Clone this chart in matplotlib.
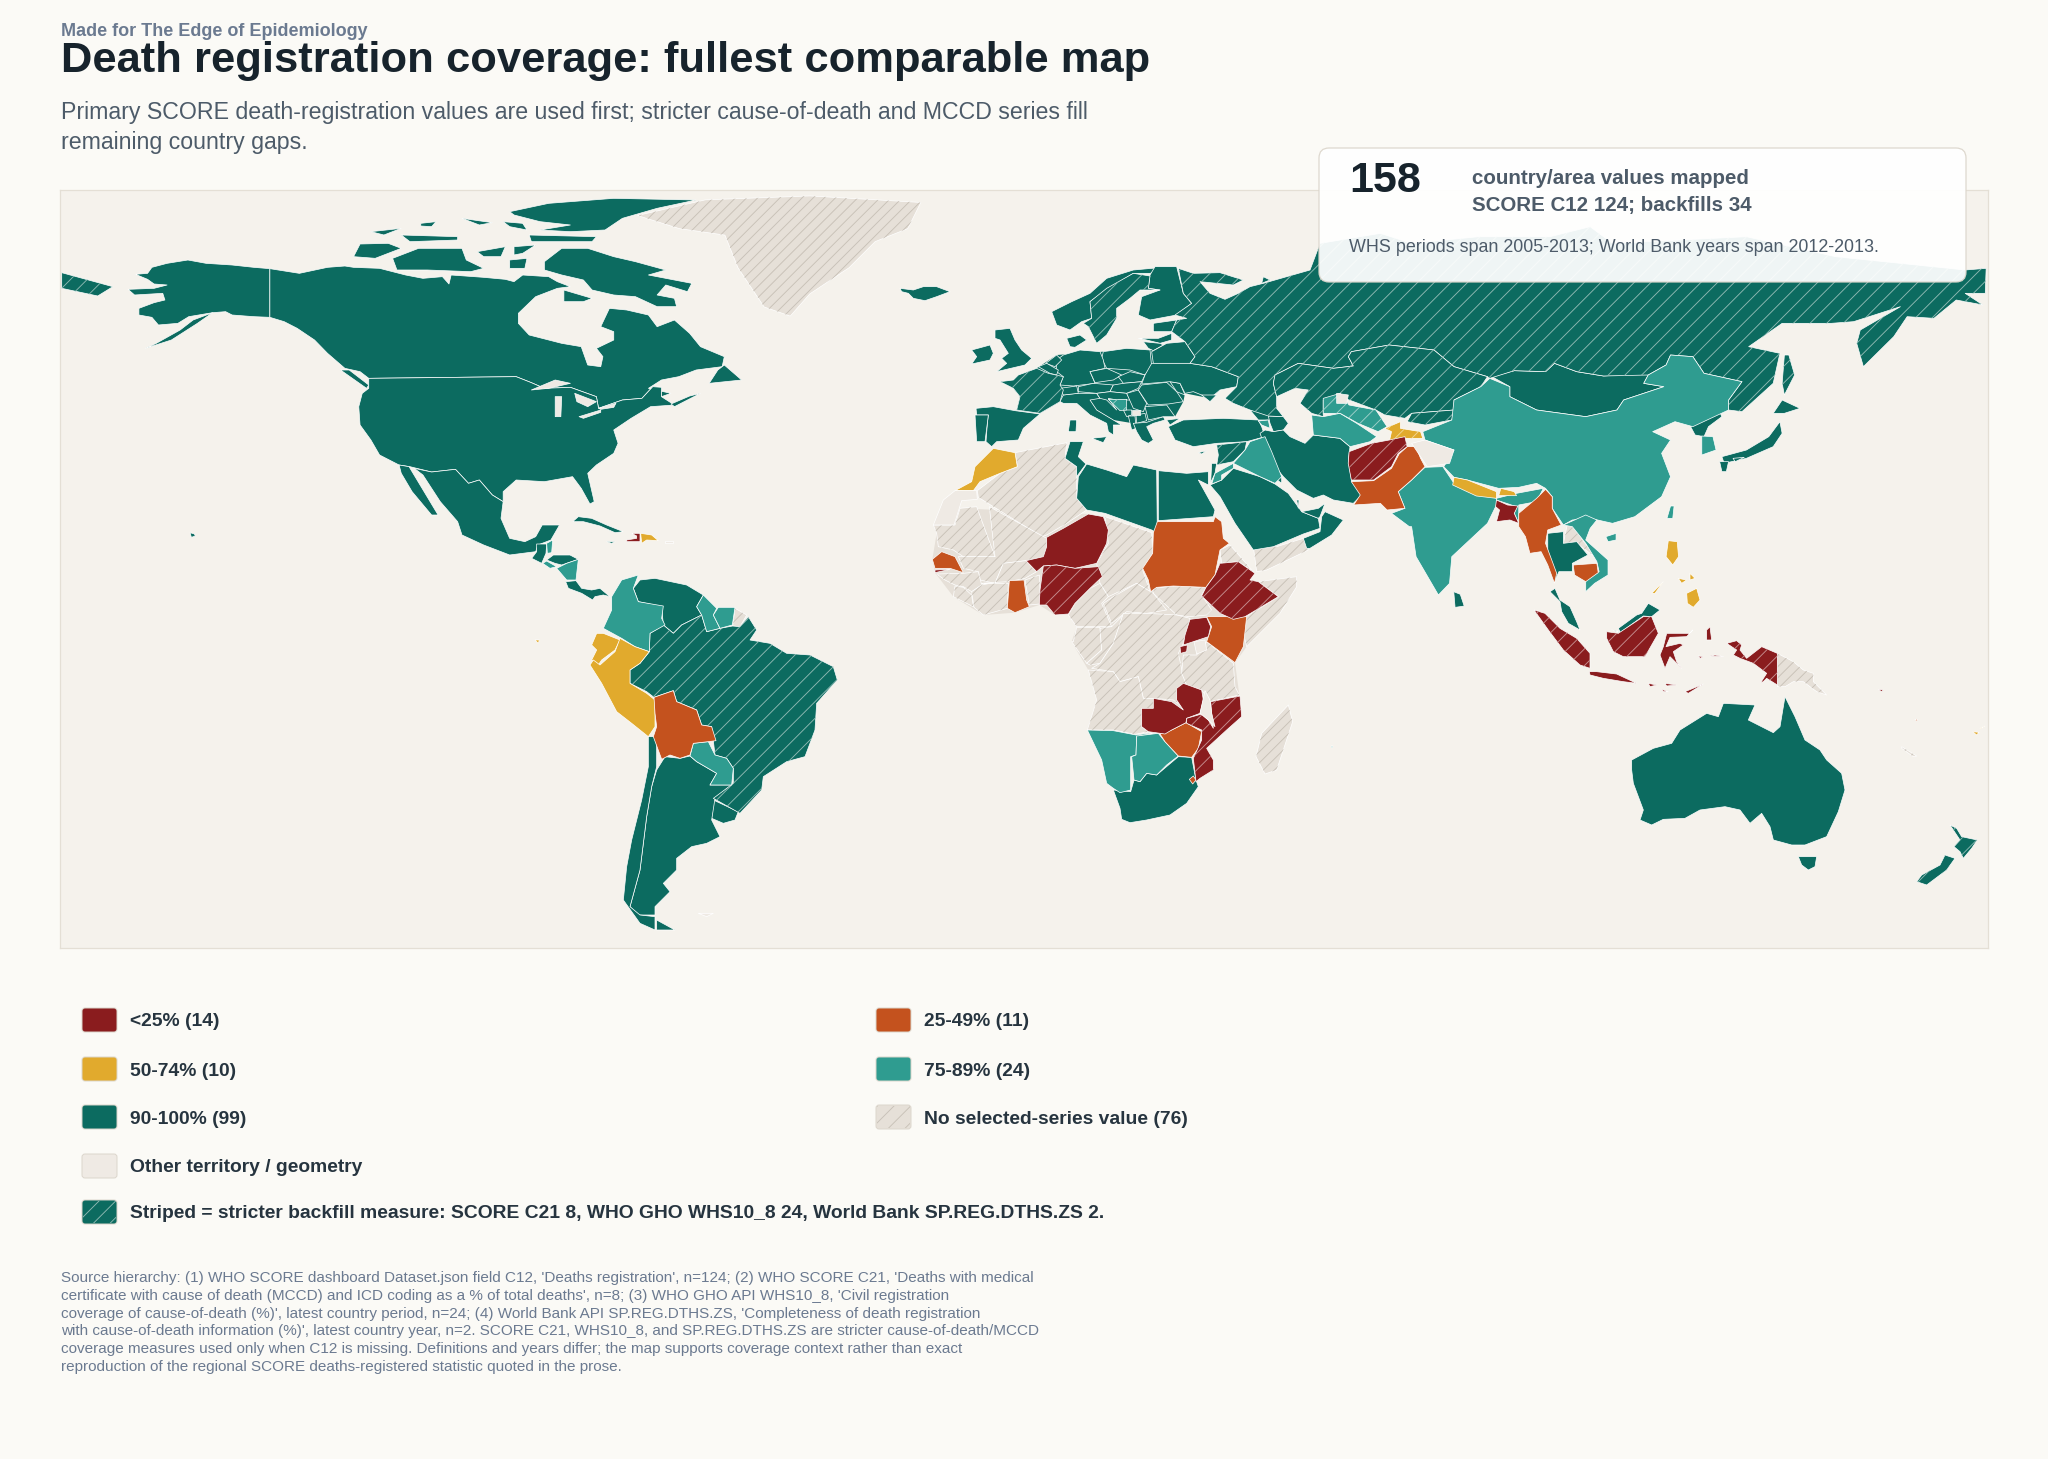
import matplotlib
matplotlib.use("Agg")
import matplotlib.pyplot as plt
from matplotlib.patches import Polygon, FancyBboxPatch, Rectangle

plt.rcParams['font.family'] = ['Liberation Sans', 'DejaVu Sans']
plt.rcParams['hatch.linewidth'] = 0.65

def crop(x0, y0, sx, sy):
    return lambda pts: [(x0 + a / sx, y0 + b / sy) for a, b in pts]

BASE = crop(0, 0, 0.7656, 0.7656)
NA = crop(50, 180, 2.306, 3)
SA = crop(500, 500, 3, 3)
EU = crop(900, 260, 3, 3)
AF = crop(900, 500, 3, 3)
AS = crop(1300, 250, 2.24, 3)
OC = crop(1480, 550, 3, 3)
TOP = crop(1300, 130, 2.24, 3)

# land under the country shapes, closes small gaps between neighbours
underlay_dark = [
    EU([(340,385),(410,325),(470,285),(610,275),(755,270),(885,290),(1015,350),(960,390),(930,415),(855,400),(850,425),(825,470),(790,470),(740,500),(700,490),(640,480),(590,450),(570,420),(530,430),(480,425),(420,460),(350,450),(360,410)]),
]
underlay_none = [
    AF([(100,75),(180,25),(565,42),(755,98),(758,160),(728,205),(752,275),(918,262),(945,225),(1075,245),(1190,230),(1140,340),(1040,440),(1005,488),(1018,585),(930,605),(860,630),(725,680),(745,695),(562,690),(590,600),(565,510),(515,425),(530,382),(505,342),(465,345),(418,315),(345,338),(250,345),(160,290),(105,218),(97,178),(110,100)]),
]

# ---- coverage bins ----
dark = [
    # north america
    NA([(507,266),(470,262),(420,255),(360,250),(318,240),(270,250),(235,262),(225,280),(197,283),(225,298),(240,312),(270,315),(240,325),(180,328),(195,345),(260,340),(265,360),(240,368),(205,385),(205,405),(235,412),(250,435),(295,430),(320,410),(375,398),(405,395),(420,405),(470,410),(507,412)]),
    NA([(375,398),(340,430),(280,480),(220,505),(245,490),(300,450),(330,420)]),
    NA([(507,412),(540,425),(570,445),(610,480),(640,520),(680,565),(715,575),(735,595),(1075,590),(1110,608),(1140,625),(1200,622),(1260,650),(1265,685),(1320,660),(1365,655),(1390,620),(1410,622),(1410,650),(1432,640),(1380,625),(1410,600),(1450,590),(1490,570),(1550,560),(1555,530),(1500,500),(1475,460),(1440,420),(1400,440),(1380,405),(1330,390),(1290,385),(1270,440),(1300,455),(1300,480),(1260,505),(1275,530),(1270,560),(1240,555),(1225,500),(1180,490),(1105,465),(1080,430),(1080,400),(1120,350),(1170,325),(1200,320),(1170,305),(1150,290),(1090,285),(1070,305),(1050,298),(1000,292),(925,285),(920,312),(905,290),(860,295),(820,285),(760,265),(700,262),(680,258),(640,262),(575,280),(507,266)]),
    NA([(735,595),(1075,590),(1110,608),(1140,625),(1200,622),(1260,650),(1265,685),(1320,660),(1365,655),(1390,620),(1410,622),(1410,650),(1440,675),(1385,680),(1340,715),(1300,750),(1310,790),(1300,820),(1260,855),(1240,880),(1255,965),(1245,972),(1225,925),(1205,890),(1140,905),(1075,900),(1045,935),(1045,965),(1020,945),(990,900),(965,910),(935,868),(880,876),(830,860),(805,855),(760,825),(740,780),(715,735),(712,680),(720,640),(735,625)]),
    NA([(840,865),(880,876),(935,868),(965,910),(990,900),(1020,945),(1045,965),(1040,1015),(1060,1075),(1095,1085),(1120,1070),(1135,1035),(1175,1035),(1155,1080),(1125,1095),(1120,1115),(1090,1120),(1060,1125),(1000,1095),(950,1065),(940,1025),(900,965),(860,885)]),
    NA([(805,855),(828,860),(895,1005),(880,1005),(835,935),(810,880)]),
    NA([(1140,245),(1180,205),(1240,205),(1300,230),(1350,245),(1420,270),(1380,285),(1480,310),(1470,335),(1420,315),(1400,345),(1440,355),(1445,380),(1400,380),(1350,350),(1300,345),(1250,330),(1230,300),(1180,285),(1140,270)]),
    NA([(1185,330),(1250,355),(1230,365),(1185,365)]),
    NA([(700,230),(715,192),(780,190),(810,205),(750,235)]),
    NA([(790,235),(850,205),(950,205),(960,240),(1000,265),(970,275),(870,270),(800,270)]),
    NA([(985,215),(1050,200),(1040,230),(1000,230)]),
    NA([(1070,200),(1120,195),(1090,220),(1070,225)]),
    NA([(1060,240),(1100,235),(1095,265),(1060,265)]),
    NA([(740,155),(810,145),(770,165)]),
    NA([(810,165),(940,170),(940,180),(830,185)]),
    NA([(855,130),(890,125),(880,140),(855,138)]),
    NA([(950,115),(1020,128),(990,135)]),
    NA([(1105,165),(1260,170),(1250,185),(1110,185)]),
    NA([(1060,95),(1150,70),(1300,55),(1490,60),(1400,85),(1320,115),(1280,150),(1200,155),(1130,150),(1200,135),(1130,125),(1070,105)]),
    NA([(1045,125),(1090,130),(1100,150),(1060,140)]),
    NA([(1540,570),(1555,555),(1595,600),(1520,610)]),
    NA([(1432,672),(1475,648),(1500,640),(1470,660),(1440,680)]),
    NA([(670,570),(690,570),(735,615),(730,625)]),
    NA([(323,1058),(333,1062),(335,1068),(326,1072)]),
    SA([(110,132),(140,132),(138,160),(125,190),(95,175),(110,155)]),
    SA([(140,180),(160,165),(210,165),(235,178),(185,195),(165,190)]),
    SA([(197,245),(228,242),(245,265),(275,270),(300,265),(330,290),(310,285),(285,290),(278,300),(245,280),(205,265)]),
    SA([(218,65),(235,50),(275,55),(320,75),(370,95),(345,98),(300,78),(250,65)]),
    SA([(320,125),(345,125),(335,130)]),
    # south america
    SA([(420,240),(465,235),(560,255),(610,285),(590,320),(605,345),(545,375),(520,400),(490,375),(485,320),(415,305),(400,265)]),
    SA([(640,900),(715,935),(705,960),(670,970),(635,955)]),
    SA([(470,810),(495,770),(540,775),(570,768),(590,785),(650,820),(630,855),(695,855),(645,895),(635,960),(660,1010),(620,1030),(575,1040),(530,1075),(530,1110),(490,1150),(510,1175),(465,1220),(465,1245),(415,1245),(390,1220),(420,1110),(430,1030),(440,950),(455,860)]),
    SA([(470,1260),(525,1290),(470,1290)]),
    SA([(445,710),(470,710),(470,800),(455,860),(440,950),(430,1030),(420,1110),(390,1220),(420,1245),(465,1250),(465,1290),(420,1270),(370,1200),(380,1100),(395,1020),(425,900),(445,800)]),
    # europe
    EU([(0,85),(40,90),(70,80),(110,80),(150,95),(110,110),(75,122),(40,115),(25,100),(5,95)]),
    EU([(285,210),(330,205),(345,240),(365,270),(395,295),(375,315),(290,335),(320,310),(305,295),(325,280),(300,240),(285,235)]),
    EU([(215,270),(270,255),(280,280),(270,300),(215,312),(230,290)]),
    EU([(455,155),(515,125),(570,100),(620,55),(700,30),(755,25),(830,20),(750,40),(700,40),(620,90),(570,125),(575,175),(545,185),(510,210),(470,195)]),
    EU([(750,45),(765,20),(830,20),(850,100),(875,130),(830,165),(750,180),(715,165),(725,110),(780,90),(745,85)]),
    EU([(760,190),(830,180),(815,215),(760,215)]),
    EU([(715,235),(775,235),(815,220),(815,240),(780,250),(740,240)]),
    EU([(730,245),(780,250),(790,255),(760,272),(745,265)]),
    EU([(755,275),(800,250),(855,245),(885,290),(870,310),(760,310)]),
    EU([(610,275),(680,265),(750,270),(755,320),(735,345),(690,330),(620,325),(605,295)]),
    EU([(470,300),(490,285),(540,270),(600,275),(610,300),(615,325),(570,335),(585,370),(520,378),(480,375),(490,350),(470,335)]),
    EU([(500,235),(540,225),(560,240),(525,262),(510,260)]),
    EU([(437,310),(470,285),(485,300),(465,320)]),
    EU([(415,320),(440,310),(475,330),(470,345),(450,340)]),
    EU([(228,445),(280,440),(345,452),(420,462),(370,505),(355,540),(290,545),(275,560),(258,545),(262,490),(265,465),(230,465)]),
    EU([(225,465),(265,465),(262,490),(255,545),(230,545)]),
    EU([(510,480),(530,480),(528,515),(505,515)]),
    EU([(575,535),(620,530),(610,548)]),
    EU([(480,425),(490,405),(530,400),(590,400),(600,415),(570,420),(590,450),(640,480),(665,495),(640,495),(640,525),(625,515),(620,490),(570,465),(530,430),(490,430)]),
    EU([(480,385),(530,378),(535,400),(490,405)]),
    EU([(535,380),(580,370),(640,375),(630,395),(590,400),(535,395)]),
    EU([(570,335),(620,325),(665,345),(640,360),(585,368)]),
    EU([(655,350),(690,335),(735,345),(725,365),(670,370)]),
    EU([(640,375),(670,370),(725,365),(715,385),(680,400),(630,395)]),
    EU([(590,400),(630,395),(680,400),(690,420),(650,420),(625,415),(650,450),(620,420),(600,415)]),
    EU([(680,400),(715,390),(740,430),(730,455),(700,445)]),
    EU([(670,450),(695,450),(695,465),(680,470)]),
    EU([(685,468),(705,468),(708,505),(695,510)]),
    EU([(708,465),(735,460),(740,482),(710,490)]),
    EU([(700,490),(740,487),(790,470),(795,480),(760,490),(740,500),(760,540),(745,550),(725,540),(710,515)]),
    EU([(735,440),(800,435),(825,470),(790,470),(745,480)]),
    EU([(725,375),(800,367),(830,395),(850,425),(805,432),(745,435),(715,390)]),
    EU([(810,365),(840,370),(855,405),(830,395)]),
    EU([(755,310),(870,310),(935,320),(1015,350),(1010,380),(960,390),(930,415),(905,405),(880,395),(855,400),(840,370),(810,365),(725,372),(735,345)]),
    EU([(905,405),(950,405),(930,425)]),
    # middle east
    EU([(805,500),(850,480),(970,475),(1075,480),(1085,500),(1095,530),(1040,545),(950,550),(880,560),(825,540)]),
    EU([(800,480),(840,475),(810,495)]),
    EU([(1050,450),(1075,455),(1125,465),(1110,480),(1075,480)]),
    EU([(1105,468),(1150,470),(1165,490),(1150,510),(1120,515),(1110,490)]),
    EU([(1095,510),(1120,515),(1150,510),(1170,530),(1215,550),(1240,525),(1320,535),(1350,560),(1345,600),(1355,665),(1390,700),(1360,730),(1300,720),(1270,705),(1240,715),(1190,690),(1150,650),(1110,600),(1080,520)]),
    EU([(935,610),(950,610),(945,640),(932,668)]),
    EU([(930,675),(965,660),(1000,625),(1080,650),(1125,672),(1165,700),(1205,755),(1255,775),(1260,805),(1210,822),(1120,860),(1060,870),(1005,790),(960,710)]),
    AF([(1210,115),(1260,95),(1265,50),(1275,35),(1330,60),(1295,105),(1230,145),(1220,145)]),
    EU([(1205,755),(1255,745),(1275,730),(1260,770),(1255,775)]),
    EU([(1190,720),(1197,720),(1195,745)]),
    EU([(1125,655),(1145,650),(1145,670)]),
    EU([(895,578),(920,572),(905,582)]),
    # north africa
    EU([(510,545),(550,545),(535,590),(558,612),(530,650),(530,620),(495,595)]),
    EU([(535,650),(560,612),(620,630),(680,650),(700,615),(770,630),(772,820),(755,810),(615,760),(560,750),(530,715)]),
    EU([(775,632),(860,640),(925,635),(925,675),(895,660),(945,750),(940,770),(775,782)]),
    AF([(640,870),(692,875),(702,840),(720,845),(740,820),(770,825),(835,770),(875,772),(888,840),(895,860),(860,910),(810,945),(740,960),(690,968),(665,958),(660,925)]),
    # asia
    AS([(430,380),(480,362),(550,365),(570,340),(620,365),(680,378),(770,370),(780,375),(770,400),(815,410),(770,430),(725,450),(710,480),(640,500),(530,480),(470,440),(470,410)]),
    AS([(875,530),(940,485),(945,500),(915,530),(905,560),(885,555)]),
    AS([(1075,515),(1080,550),(1060,590),(1000,625),(950,640),(945,620),(1000,600),(1050,560)]),
    AS([(1080,450),(1120,475),(1085,490),(1060,490)]),
    AS([(940,635),(960,635),(955,665),(945,665)]),
    AS([(970,625),(995,622),(975,635)]),
    AS([(555,850),(590,845),(590,880),(620,875),(645,915),(610,940),(610,965),(580,965),(570,995),(555,945)]),
    BASE([(1113,453),(1118,455),(1121,464),(1114,465)]),
    # oceania
    OC([(455,630),(520,595),(575,580),(600,540),(680,490),(715,500),(730,460),(825,465),(805,510),(880,548),(900,530),(915,440),(945,500),(975,570),(1020,600),(1040,630),(1085,670),(1095,720),(1075,785),(1040,860),(975,885),(935,885),(880,870),(870,830),(845,790),(810,820),(780,780),(735,770),(660,780),(615,805),(550,808),(515,825),(480,810),(490,780),(460,700),(455,660)]),
    OC([(955,920),(1010,920),(1005,950),(985,960),(965,945)]),
    OC([(395,240),(420,245),(415,235),(470,195),(485,190),(505,160),(540,180),(515,200),(490,198),(420,248)]),
    OC([(210,125),(225,115),(240,150),(270,170),(290,215),(300,240),(265,220),(245,185),(240,155)]),
]
dark_striped = [
    # russia, the arctic side runs under the stat box
    EU([(835,25),(880,40),(960,38),(1030,60),(1000,75),(900,65),(930,100),(975,118),(1015,100),(1050,80),(1090,70),(1160,50),(1230,30)])
    + TOP([(45,340),(180,310),(250,340),(400,320),(560,320),(650,290),(700,340),(1000,320),(1200,380),(1490,420),(1537,415)])
    + AS([(1535,130),(1490,130),(1530,165),(1470,150),(1420,205),(1360,200),(1330,260),(1262,350),(1247,280),(1255,240),(1345,170),(1240,215),(1190,220),(1080,220),(1005,290),(1075,310),(1060,400),(990,485),(960,480),(960,450),(990,395),(905,370),(880,320),(830,315),(820,345),(780,375),(680,378),(620,365),(570,340),(550,365),(480,362),(425,385),(420,380),(345,350),(300,300),(200,285),(115,305)])
    + EU([(1345,290),(1360,318),(1300,325),(1195,310),(1125,345),(1120,370),(1130,410),(1130,445),(1150,470),(1105,468),(1050,450),(1000,430),(975,415),(1010,380),(1015,350),(935,320),(870,310),(885,290),(855,245),(815,215),(830,180),(860,175),(825,165),(875,130),(850,100)]),
    NA([(27,278),(145,320),(110,348),(27,325)]),
    AS([(1085,315),(1095,315),(1108,375),(1085,435),(1080,400)]),
    EU([(1090,50),(1110,60),(1085,70)]),
    # kazakhstan, kyrgyzstan
    EU([(1125,345),(1195,310),(1300,325),(1360,318),(1345,290)])
    + AS([(115,305),(200,285),(300,300),(345,350),(420,380),(405,410),(345,450),(345,480),(250,490),(235,505),(190,495),(170,480),(120,455),(90,440),(52,450),(52,495)])
    + EU([(1270,470),(1235,460),(1200,430),(1225,390),(1185,385),(1130,410),(1120,370)]),
    AS([(250,490),(345,480),(340,510),(280,525),(240,515)]),
    # sweden, france, syria, brazil, new zealand
    EU([(570,125),(620,85),(700,40),(750,48),(745,85),(780,90),(720,90),(690,115),(650,145),(650,175),(620,225),(590,250),(565,200),(550,190),(575,175)]),
    EU([(300,365),(340,360),(355,345),(410,325),(445,340),(490,350),(480,375),(490,390),(480,425),(420,460),(350,450),(360,410),(340,385)]),
    EU([(950,555),(1040,545),(1035,570),(1000,605),(950,615),(955,585)]),
    SA([(490,375),(520,400),(545,375),(605,345),(620,395),(660,385),(698,378),(720,380),(745,350),(770,390),(750,420),(810,430),(860,460),(930,465),(1000,500),(1012,540),(950,610),(945,690),(915,770),(860,785),(790,830),(785,870),(720,940),(640,895),(700,850),(700,805),(680,775),(645,765),(635,680),(605,675),(590,630),(530,605),(520,572),(462,592),(440,575),(390,550),(390,510),(420,490),(448,455),(450,400)]),
    OC([(1410,825),(1430,835),(1445,860),(1492,870),(1475,895),(1450,925),(1440,905),(1422,890),(1440,870)]),
    OC([(1395,915),(1425,925),(1400,960),(1340,1005),(1310,995),(1325,975),(1380,945)]),
]
teal = [
    SA([(140,130),(158,120),(155,158),(142,160)]),
    SA([(128,190),(140,183),(170,200),(150,205)]),
    SA([(170,205),(200,190),(235,178),(228,240),(200,240)]),
    SA([(415,225),(400,265),(415,305),(490,318),(485,355),(495,375),(450,400),(448,455),(405,440),(365,415),(310,385),(335,330),(335,290),(365,240)]),
    SA([(610,285),(650,325),(640,345),(660,385),(620,395),(605,345),(590,320)]),
    SA([(655,322),(705,322),(697,375),(660,385),(640,345)]),
    SA([(580,730),(625,725),(645,765),(680,775),(700,805),(695,855),(630,855),(650,820),(590,785),(570,768)]),
    EU([(1075,483),(1105,480),(1110,505),(1085,495)]),
    EU([(1235,465),(1270,470),(1320,460),(1370,490),(1430,530),(1410,545),(1350,560),(1320,535),(1240,525)]),
    EU([(1050,545),(1095,530),(1115,575),(1145,650),(1125,670),(1080,650),(1030,625),(1000,610),(1035,570)]),
    EU([(945,640),(1000,610),(1000,625),(965,645),(965,660),(935,672)]),
    AS([(425,385),(470,410),(470,440),(530,480),(640,500),(710,480),(725,450),(770,430),(815,410),(770,400),(780,375),(820,345),(830,315),(880,320),(905,370),(990,395),(960,450),(960,480),(880,530),(840,515),(790,545),(830,570),(810,610),(830,680),(810,740),(750,800),(700,820),(650,805),(610,810),(590,825),(565,775),(565,740),(550,715),(530,700),(490,712),(445,715),(375,690),(345,682),(322,650),(345,600),(280,570),(275,545),(340,510),(345,450),(405,410)]),
    AS([(280,652),(320,650),(345,700),(440,745),(440,765),(420,820),(340,920),(335,1000),(310,1035),(260,920),(250,830),(245,830),(205,790),(235,775),(220,725),(250,690)]),
    AS([(440,745),(485,730),(545,715),(530,755),(490,765),(490,820),(480,790),(485,770),(440,750)]),
    AS([(900,558),(925,560),(932,600),(900,615)]),
    AS([(830,768),(838,768),(835,805),(822,805)]),
    AS([(685,860),(708,850),(708,870),(690,875)]),
    AS([(590,825),(640,795),(665,810),(650,835),(640,870),(690,930),(690,975),(660,1000),(640,1025),(640,990),(670,965),(665,935),(640,880),(610,830)]),
    AF([(562,690),(640,692),(708,705),(745,700),(775,697),(710,710),(708,765),(692,770),(692,870),(660,878),(640,865),(620,850),(605,780)]),
    AF([(710,708),(775,700),(795,725),(835,768),(800,795),(770,825),(740,820),(720,845),(702,840),(695,770),(708,765)]),
    AF([(1293,738),(1299,738),(1296,744)]),
]
teal_striped = [
    EU([(625,418),(680,418),(680,450),(660,452)]),
    AS([(52,445),(90,430),(110,465),(170,480),(195,530),(175,545),(130,520),(90,490),(52,490)]),
]
gold = [
    SA([(422,100),(455,105),(475,122),(440,120),(425,130)]),
    SA([(290,400),(310,400),(360,420),(345,450),(305,480),(295,495),(275,480),(290,450),(275,435)]),
    SA([(360,415),(405,440),(448,455),(420,490),(390,510),(390,550),(440,580),(465,600),(465,655),(465,680),(445,710),(395,670),(350,635),(305,550),(270,495),(280,480),(300,495),(345,455)]),
    SA([(105,420),(118,420),(115,430)]),
    EU([(280,565),(345,578),(352,620),(300,640),(240,665),(220,692),(165,692),(215,665),(225,620)]),
    AS([(345,682),(375,690),(440,725),(440,745),(395,738),(342,705)]),
    AS([(450,715),(480,725),(485,737),(445,737)]),
    AS([(825,872),(845,875),(848,920),(835,945),(820,920)]),
    OC([(620,130),(650,115),(660,150),(640,172),(622,160)]),
    OC([(595,85),(620,90),(605,100)]),
    OC([(630,70),(645,85),(630,90)]),
    OC([(515,130),(550,95),(525,130)]),
    OC([(1478,545),(1497,547),(1490,555)]),
    OC([(1500,535),(1515,528),(1505,535)]),
]
gold_striped = [
    AS([(190,535),(225,515),(225,535),(270,545),(275,565),(235,565),(200,575),(205,545)]),
]
orange = [
    SA([(462,592),(520,572),(530,605),(590,630),(605,675),(635,680),(648,722),(625,725),(580,730),(570,765),(540,775),(510,765),(485,778),(460,710),(470,680),(465,640)]),
    AF([(772,65),(940,65),(945,50),(965,65),(970,115),(988,130),(960,150),(945,225),(918,262),(820,258),(770,262),(752,275),(745,240),(728,205),(758,160),(760,98)]),
    AF([(97,178),(125,155),(165,170),(190,218),(150,205),(105,205)]),
    AF([(328,242),(372,240),(380,300),(388,320),(345,338),(322,325)]),
    AF([(920,350),(1040,350),(1030,440),(1005,488),(920,425),(935,380)]),
    AF([(780,702),(815,690),(858,668),(905,695),(895,745),(875,772),(835,768),(795,725)]),
    AF([(868,838),(880,828),(888,840),(878,852)]),
    AS([(240,590),(260,590),(270,625),(280,650),(250,690),(220,725),(235,775),(195,780),(180,760),(120,765),(135,735),(115,695),(165,692),(205,655),(222,612)]),
    AS([(550,718),(565,740),(565,775),(585,825),(555,840),(550,880),(575,970),(570,1000),(555,945),(540,905),(515,910),(505,860),(490,830),(490,790),(530,745)]),
    AS([(612,945),(665,940),(668,968),(640,995),(615,975)]),
    OC([(1305,508),(1313,508),(1310,514)]),
]
red = [
    SA([(395,100),(420,100),(420,125),(380,125),(380,120),(410,115),(410,108)]),
    AF([(440,112),(490,85),(565,42),(610,50),(625,90),(620,130),(590,190),(525,205),(470,195),(430,198),(410,215),(378,182),(430,170),(440,140)]),
    AF([(105,210),(150,208),(105,218)]),
    AF([(870,358),(920,352),(932,380),(925,410),(880,425),(850,435),(855,405)]),
    AF([(840,440),(862,435),(860,455),(842,460)]),
    AF([(725,625),(760,625),(760,595),(815,605),(850,630),(830,600),(830,565),(850,550),(905,570),(910,600),(900,640),(860,655),(858,668),(815,690),(795,702),(745,695),(725,680)]),
    AS([(440,750),(465,765),(488,768),(480,790),(490,820),(470,810),(440,815),(447,780),(438,770)]),
    OC([(560,250),(630,250),(638,240),(620,260),(570,262),(558,290),(600,280),(610,285),(580,305),(590,335),(605,355),(570,320),(555,355),(540,315),(550,290)]),
    OC([(328,365),(350,365),(410,372),(470,400),(430,395),(370,385),(330,375)]),
    OC([(505,400),(530,405),(510,410)]),
    OC([(555,400),(590,405),(560,408)]),
    OC([(615,425),(670,402),(625,430)]),
    OC([(545,418),(565,425),(550,425)]),
    OC([(680,240),(690,230),(695,270),(680,270)]),
    OC([(705,315),(730,320),(690,318)]),
    OC([(655,318),(670,320),(660,325)]),
    OC([(1195,418),(1210,420),(1205,425)]),
]
red_striped = [
    AF([(430,198),(470,195),(525,205),(595,200),(607,230),(570,265),(525,310),(505,342),(465,345),(440,315),(418,315),(420,270)]),
    AF([(945,225),(960,190),(1015,185),(1065,220),(1050,240),(1075,245),(1135,290),(1035,350),(1000,358),(960,340),(905,288),(918,262)]),
    AF([(932,605),(1020,588),(1025,650),(980,690),(920,745),(940,780),(940,810),(900,835),(888,845),(880,775),(905,720),(905,690),(860,670),(860,655),(905,642),(925,660),(940,685),(935,640)]),
    AS([(110,605),(160,580),(200,570),(235,560),(240,590),(220,610),(205,650),(165,690),(115,690),(108,640)]),
    OC([(162,180),(195,190),(240,235),(290,265),(330,310),(330,355),(300,345),(250,300),(205,240)]),
    OC([(380,245),(415,250),(490,200),(515,200),(535,250),(495,320),(430,320),(400,305),(380,265)]),
    OC([(740,280),(770,272),(785,285),(780,300),(800,325),(845,290),(892,310),(892,405),(860,385),(850,395),(842,398),(860,370),(820,340),(780,325),(760,315),(770,300)]),
]
no_value = [
    BASE([(488,165),(540,153),(620,150),(705,155),(695,175),(670,185),(650,205),(620,225),(605,242),(585,235),(565,205),(555,180),(520,175)]),
    SA([(705,325),(740,345),(720,380),(698,378)]),
    EU([(345,578),(500,548),(495,595),(530,620),(530,715),(560,750),(500,790),(440,825),(425,830),(235,712),(232,692),(300,640),(352,620)]),
    AF([(1060,140),(1130,140),(1210,115),(1225,150),(1100,210),(1070,215)]),
    AF([(760,265),(820,258),(918,262),(905,285),(935,330),(920,345),(870,350),(830,345),(760,280)]),
    AF([(615,50),(755,98),(758,160),(728,210),(750,275),(710,250),(625,290),(600,250),(590,190),(625,130)]),
    AF([(268,20),(440,115),(440,170),(378,182),(310,190),(285,250),(240,240),(235,215),(190,205),(175,170),(285,170)]),
    AF([(100,75),(165,75),(180,25),(230,20),(285,170),(190,170),(160,150),(115,140),(110,100)]),
    AF([(110,222),(190,220),(235,215),(245,255),(215,275),(190,260),(165,255),(135,240)]),
    AF([(165,258),(190,262),(215,285),(220,320),(160,290)]),
    AF([(215,275),(245,255),(270,250),(325,250),(322,325),(250,345),(222,322)]),
    AF([(245,250),(285,250),(310,190),(378,182),(410,215),(375,235),(325,245),(270,248)]),
    AF([(375,240),(418,225),(420,270),(418,312),(388,315)]),
    AF([(525,310),(570,265),(600,250),(625,290),(605,310),(635,380),(555,380),(530,380),(505,345)]),
    AF([(610,310),(640,290),(710,250),(760,280),(800,330),(740,340),(680,335),(635,370)]),
    AF([(520,425),(530,382),(600,382),(605,450),(560,490),(515,425)]),
    AF([(560,490),(605,450),(600,385),(635,380),(670,345),(640,430),(600,490),(570,495)]),
    AF([(670,340),(740,340),(830,345),(870,355),(850,430),(835,460),(850,530),(870,555),(830,570),(830,600),(860,630),(820,600),(760,595),(730,595),(715,530),(660,545),(640,515),(575,505),(600,490),(640,430)]),
    AF([(1075,245),(1190,230),(1190,260),(1140,340),(1040,440),(1030,400),(1035,352),(1135,290)]),
    AF([(960,150),(990,135),(1060,215),(1015,185),(965,190)]),
    AF([(850,465),(890,465),(920,425),(1000,490),(1005,560),(1018,585),(930,605),(905,570),(860,555),(845,520)]),
    AF([(565,510),(640,515),(660,545),(715,530),(730,595),(760,595),(760,625),(725,625),(725,680),(745,695),(705,703),(640,690),(562,690),(590,600)]),
    AF([(1165,615),(1178,665),(1130,810),(1095,822),(1068,770),(1085,700)]),
    AS([(600,815),(640,845),(630,865),(665,925),(645,905),(620,880),(590,880)]),
    OC([(892,310),(940,335),(970,360),(1000,370),(1000,395),(1040,435),(1010,425),(970,395),(940,395),(915,410),(892,410)]),
    OC([(1265,590),(1310,618),(1300,620),(1265,595)]),
]
other = [
    EU([(165,692),(230,692),(232,718),(185,722),(162,795),(100,795),(130,720)]),
    EU([(695,450),(720,450),(720,465),(695,465)]),
    EU([(1310,400),(1345,405),(1340,430),(1310,430)]),
    SA([(495,122),(520,122),(520,128),(495,128)]),
    SA([(595,1240),(640,1240),(620,1250)]),
    AS([(250,580),(280,570),(345,600),(335,640),(285,650),(265,610)]),
    AF([(900,640),(915,572),(930,600),(935,640),(945,680),(925,660)]),
    AF([(882,425),(915,420),(920,450),(890,462)]),
    # great lakes
    NA([(1110,630),(1165,600),(1200,610),(1150,625)]),
    NA([(1165,650),(1180,650),(1178,710),(1165,710)]),
    NA([(1210,640),(1260,665),(1240,680),(1215,665)]),
    NA([(1220,710),(1270,690),(1270,697),(1230,715)]),
    NA([(1265,685),(1305,670),(1300,682),(1270,688)]),
]

# ---- legend and text ----
legend_left = ["<25% (14)", "50-74% (10)", "90-100% (99)", "Other territory / geometry"]
legend_right = ["25-49% (11)", "75-89% (24)", "No selected-series value (76)"]
stripe_note = "Striped = stricter backfill measure: SCORE C21 8, WHO GHO WHS10_8 24, World Bank SP.REG.DTHS.ZS 2."
source_lines = [
    "Source hierarchy: (1) WHO SCORE dashboard Dataset.json field C12, 'Deaths registration', n=124; (2) WHO SCORE C21, 'Deaths with medical",
    "certificate with cause of death (MCCD) and ICD coding as a % of total deaths', n=8; (3) WHO GHO API WHS10_8, 'Civil registration",
    "coverage of cause-of-death (%)', latest country period, n=24; (4) World Bank API SP.REG.DTHS.ZS, 'Completeness of death registration",
    "with cause-of-death information (%)', latest country year, n=2. SCORE C21, WHS10_8, and SP.REG.DTHS.ZS are stricter cause-of-death/MCCD",
    "coverage measures used only when C12 is missing. Definitions and years differ; the map supports coverage context rather than exact",
    "reproduction of the regional SCORE deaths-registered statistic quoted in the prose.",
]

C_DARK, C_TEAL, C_GOLD = "#0c6b60", "#2f9c90", "#e1aa2d"
C_ORANGE, C_RED = "#c4521e", "#8a1c1e"
C_NONE, C_OTHER = "#e6e0d8", "#efeae4"
BG, MAP_BG, FRAME = "#fbfaf6", "#f5f2ec", "#e4dfd5"
INK, SLATE, MUTED = "#17232c", "#4d5b69", "#6b7a90"

W, H, DPI = 2048, 1459, 100
fig = plt.figure(figsize=(W / DPI, H / DPI), dpi=DPI, facecolor=BG)

# map panel, axis units are picture pixels
mx0, mx1, my0, my1 = 60, 1988, 190, 948
ax = fig.add_axes([mx0 / W, 1 - my1 / H, (mx1 - mx0) / W, (my1 - my0) / H])
ax.set_xlim(mx0, mx1)
ax.set_ylim(my1, my0)
ax.set_facecolor(MAP_BG)
ax.set_xticks([])
ax.set_yticks([])
for s in ax.spines.values():
    s.set_color(FRAME)
    s.set_linewidth(0.9)


def draw(shapes, color, hatch_color=None, hatch="//"):
    for pts in shapes:
        ax.add_patch(Polygon(pts, closed=True, facecolor=color, edgecolor="#ffffff", linewidth=0.5, joinstyle="round"))
        if hatch_color:
            ax.add_patch(Polygon(pts, closed=True, facecolor="none", edgecolor=hatch_color, hatch=hatch, linewidth=0))


for pts in underlay_none:
    ax.add_patch(Polygon(pts, closed=True, facecolor=C_NONE, edgecolor="none"))
for pts in underlay_dark:
    ax.add_patch(Polygon(pts, closed=True, facecolor=C_DARK, edgecolor="none"))

draw(no_value, C_NONE, "#c8c1b7", "///")
draw(dark, C_DARK)
draw(dark_striped, C_DARK, "#8db9b2")
draw(teal, C_TEAL)
draw(teal_striped, C_TEAL, "#a0d0ca")
draw(gold, C_GOLD)
draw(gold_striped, C_GOLD, "#f0d692")
draw(orange, C_ORANGE)
draw(red, C_RED)
draw(red_striped, C_RED, "#c68e8f")
draw(other, C_OTHER)

# page overlay for text, box and legend
pg = fig.add_axes([0, 0, 1, 1], zorder=5)
pg.set_xlim(0, W)
pg.set_ylim(H, 0)
pg.axis("off")
pg.patch.set_alpha(0)


def px(size):
    return size * 72 / DPI


pg.text(61, 32, "Made for The Edge of Epidemiology", fontsize=px(18), fontweight="bold", color=MUTED, va="center")
pg.text(61, 61, "Death registration coverage: fullest comparable map", fontsize=px(43.5), fontweight="bold", color=INK, va="center")
pg.text(61, 113, "Primary SCORE death-registration values are used first; stricter cause-of-death and MCCD series fill", fontsize=px(23.1), color=SLATE, va="center")
pg.text(61, 142, "remaining country gaps.", fontsize=px(23.1), color=SLATE, va="center")

pg.add_patch(FancyBboxPatch((1327, 156), 631, 118, boxstyle="round,pad=8,rounding_size=10", facecolor="#ffffff", edgecolor="#dcd6cc", linewidth=0.9, alpha=0.94))
pg.text(1349, 181, "158", fontsize=px(43), fontweight="bold", color=INK, va="center")
pg.text(1472, 178, "country/area values mapped", fontsize=px(20.5), fontweight="bold", color=SLATE, va="center")
pg.text(1472, 206, "SCORE C12 124; backfills 34", fontsize=px(20.5), fontweight="bold", color=SLATE, va="center")
pg.text(1349, 248, "WHS periods span 2005-2013; World Bank years span 2012-2013.", fontsize=px(17.9), color=SLATE, va="center")


def swatch(x, y, color, hatch_color=None):
    pg.add_patch(FancyBboxPatch((x + 2, y - 10), 31, 20, boxstyle="round,pad=2,rounding_size=3", facecolor=color, edgecolor="#dcd6cc", linewidth=0.7))
    if hatch_color:
        pg.add_patch(Rectangle((x + 1, y - 11), 33, 22, facecolor="none", edgecolor=hatch_color, hatch="//", linewidth=0))


left_rows, right_rows = [1020, 1069, 1117, 1166], [1020, 1069, 1117]
for y, label, color in zip(left_rows, legend_left, [C_RED, C_GOLD, C_DARK, C_OTHER]):
    swatch(82, y, color)
    pg.text(130, y + 2, label, fontsize=px(19.3), fontweight="bold", color="#26343f", va="center")
for y, label, color, hc in zip(right_rows, legend_right, [C_ORANGE, C_TEAL, C_NONE], [None, None, "#c8c1b7"]):
    swatch(876, y, color, hc)
    pg.text(924, y + 2, label, fontsize=px(19.3), fontweight="bold", color="#26343f", va="center")
swatch(82, 1212, C_DARK, "#8db9b2")
pg.text(130, 1214, stripe_note, fontsize=px(19.3), fontweight="bold", color="#26343f", va="center")

for i, line in enumerate(source_lines):
    pg.text(61, 1278 + i * 17.8, line, fontsize=px(15.3), color=MUTED, va="center")

fig.savefig("out.png", dpi=DPI, facecolor=BG)
